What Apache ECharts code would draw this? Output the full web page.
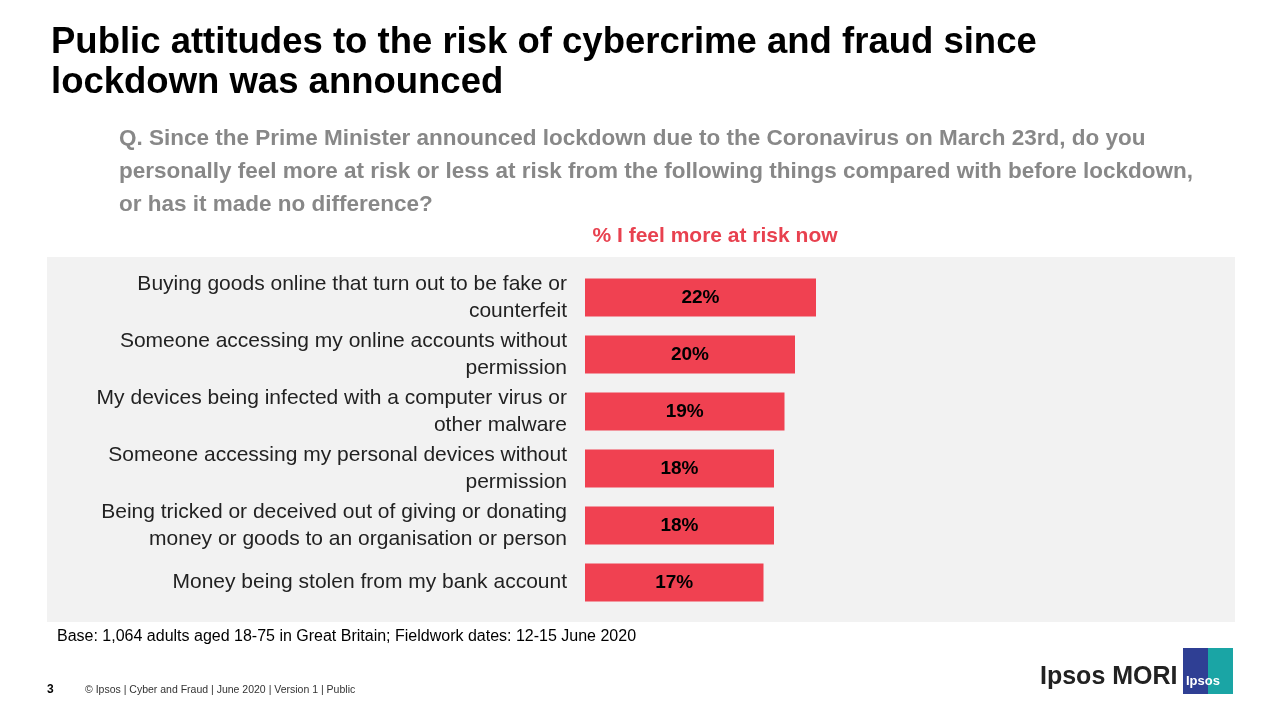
<!DOCTYPE html>
<html><head><meta charset="utf-8">
<script src="https://cdn.jsdelivr.net/npm/echarts@6/dist/echarts.min.js"></script>
<style>html,body{margin:0;background:#fff}#c{width:1280px;height:720px}</style>
</head><body><div id="c"></div>
<script>
var categories = [
  'Buying goods online that turn out to be fake or\ncounterfeit',
  'Someone accessing my online accounts without\npermission',
  'My devices being infected with a computer virus or\nother malware',
  'Someone accessing my personal devices without\npermission',
  'Being tricked or deceived out of giving or donating\nmoney or goods to an organisation or person',
  'Money being stolen from my bank account'
];
var moreAtRisk = [22, 20, 19, 18, 18, 17];

var chart = echarts.init(document.getElementById('c'));
var font = 'Liberation Sans, Arial, sans-serif';
chart.setOption({
  animation: false,
  textStyle: {fontFamily: font},
  title: [{
    text: 'Public attitudes to the risk of cybercrime and fraud since\nlockdown was announced',
    left: 46, top: 18,
    textStyle: {fontSize: 36.5, fontWeight: 'bold', color: '#000', lineHeight: 40, fontFamily: font}
  }, {
    text: 'Q. Since the Prime Minister announced lockdown due to the Coronavirus on March 23rd, do you\npersonally feel more at risk or less at risk from the following things compared with before lockdown,\nor has it made no difference?',
    left: 114, top: 117,
    textStyle: {fontSize: 22.5, fontWeight: 'bold', color: '#888', lineHeight: 33, fontFamily: font}
  }, {
    text: '% I feel more at risk now',
    left: 710, top: 221, textAlign: 'center',
    textStyle: {fontSize: 21, fontWeight: 'bold', color: '#e8414f', fontFamily: font}
  }],
  graphic: [
    {type: 'rect', z: -10, shape: {x: 47, y: 257, width: 1188, height: 365}, style: {fill: '#f2f2f2'}},
    {type: 'text', left: 57, top: 629, style: {text: 'Base: 1,064 adults aged 18-75 in Great Britain; Fieldwork dates: 12-15 June 2020', fontSize: 16, fill: '#000', fontFamily: font}},
    {type: 'text', left: 47, top: 684, style: {text: '3', fontSize: 12, fontWeight: 'bold', fill: '#000', fontFamily: font}},
    {type: 'text', left: 85, top: 685, style: {text: '© Ipsos | Cyber and Fraud | June 2020 | Version 1 | Public', fontSize: 10.5, fill: '#333', fontFamily: font}},
    {type: 'text', left: 1040, top: 665, style: {text: 'Ipsos MORI', fontSize: 25, fontWeight: 'bold', fill: '#222', fontFamily: font}},
    {type: 'rect', shape: {x: 1183, y: 648, width: 50, height: 46}, style: {fill: '#2f3f94'}},
    {type: 'rect', shape: {x: 1208, y: 648, width: 25, height: 46}, style: {fill: '#1aa5a5'}},
    {type: 'text', left: 1186, top: 675, style: {text: 'Ipsos', fontSize: 13, fontWeight: 'bold', fill: '#fff', fontFamily: font}}
  ],
  grid: {left: 585, right: 65, top: 269, height: 342},
  xAxis: {type: 'value', min: 0, max: 60, show: false},
  yAxis: {
    type: 'category', inverse: true, data: categories,
    axisLine: {show: false}, axisTick: {show: false},
    axisLabel: {fontSize: 21, color: '#222', lineHeight: 27, margin: 18, align: 'right', fontFamily: font}
  },
  series: [{
    type: 'bar', data: moreAtRisk, barWidth: 38,
    itemStyle: {color: '#f04151'},
    label: {show: true, position: 'inside', formatter: '{c}%', fontSize: 19, fontWeight: 'bold', color: '#000', fontFamily: font}
  }]
});
</script></body></html>
